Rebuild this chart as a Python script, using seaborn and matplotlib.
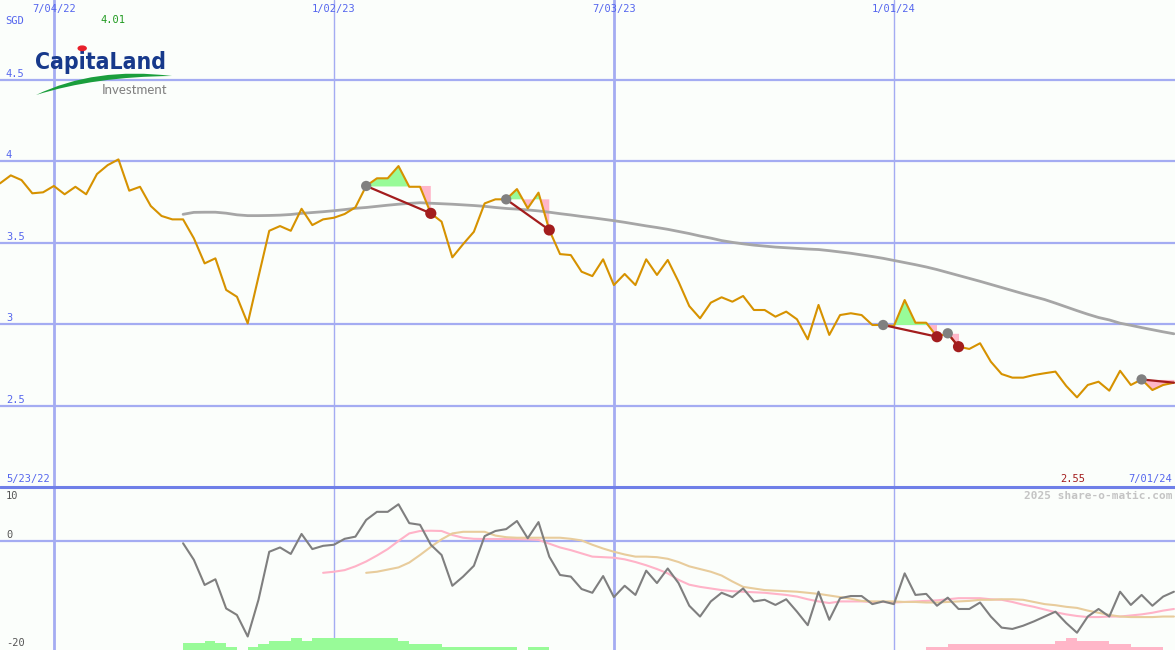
import numpy as np
import pandas as pd
import seaborn as sns
import matplotlib.pyplot as plt
import matplotlib.dates as mdates
from matplotlib import font_manager
from matplotlib.path import Path
from matplotlib.patches import PathPatch

# weekly closes, 5/30/22 .. 7/01/24
dates = pd.date_range('2022-05-30', periods=110, freq='7D')
price = [3.863, 3.912, 3.883, 3.802, 3.808, 3.847, 3.796, 3.842, 3.796, 3.920,
         3.975, 4.010, 3.818, 3.842, 3.724, 3.663, 3.642, 3.642, 3.526, 3.372,
         3.403, 3.209, 3.167, 3.004, 3.290, 3.572, 3.601, 3.572, 3.707, 3.607,
         3.642, 3.652, 3.675, 3.716, 3.847, 3.894, 3.894, 3.969, 3.842, 3.842,
         3.679, 3.628, 3.409, 3.490, 3.566, 3.740, 3.765, 3.765, 3.828, 3.710,
         3.806, 3.577, 3.429, 3.423, 3.321, 3.294, 3.397, 3.239, 3.307, 3.239,
         3.397, 3.301, 3.393, 3.260, 3.110, 3.035, 3.131, 3.164, 3.137, 3.172,
         3.086, 3.086, 3.045, 3.076, 3.029, 2.906, 3.117, 2.933, 3.055, 3.066,
         3.055, 2.994, 2.994, 2.988, 3.147, 3.008, 3.008, 2.922, 2.943, 2.861,
         2.847, 2.882, 2.769, 2.693, 2.671, 2.671, 2.687, 2.698, 2.708, 2.620,
         2.550, 2.626, 2.646, 2.591, 2.713, 2.626, 2.660, 2.595, 2.626, 2.640]

# moving average, from week 17
ma_price = [3.673, 3.685, 3.686, 3.686, 3.680, 3.670, 3.665, 3.665, 3.666, 3.668,
            3.672, 3.679, 3.684, 3.689, 3.695, 3.702, 3.710, 3.715, 3.722, 3.729,
            3.735, 3.740, 3.744, 3.741, 3.738, 3.735, 3.731, 3.727, 3.722, 3.715,
            3.709, 3.705, 3.700, 3.694, 3.686, 3.677, 3.669, 3.660, 3.652, 3.643,
            3.634, 3.624, 3.613, 3.602, 3.592, 3.581, 3.568, 3.555, 3.540, 3.527,
            3.512, 3.501, 3.492, 3.484, 3.478, 3.472, 3.468, 3.464, 3.460, 3.457,
            3.450, 3.442, 3.434, 3.424, 3.414, 3.403, 3.390, 3.377, 3.364, 3.350,
            3.334, 3.316, 3.298, 3.280, 3.262, 3.243, 3.224, 3.205, 3.186, 3.168,
            3.150, 3.128, 3.105, 3.082, 3.060, 3.040, 3.025, 3.005, 2.992, 2.978,
            2.965, 2.952, 2.940]

# lower panel oscillator (from week 17) and its two averages
osc = [-0.43, -3.5, -8.15, -7.1, -12.5, -13.7, -17.7, -10.9, -2.0, -1.2,
       -2.4, 1.3, -1.5, -0.9, -0.7, 0.4, 0.8, 3.9, 5.4, 5.4,
       6.8, 3.3, 3.0, -0.7, -2.6, -8.3, -6.6, -4.6, 0.9, 1.85,
       2.2, 3.7, 0.5, 3.5, -2.9, -6.3, -6.6, -8.9, -9.6, -6.5,
       -10.4, -8.3, -10.0, -5.5, -7.8, -5.1, -7.8, -12.0, -14.0, -11.2,
       -9.6, -10.4, -8.8, -11.2, -10.9, -11.85, -10.8, -13.1, -15.6, -9.4,
       -14.6, -10.6, -10.2, -10.2, -11.7, -11.2, -11.7, -6.0, -10.0, -9.8,
       -12.0, -10.5, -12.6, -12.6, -11.4, -14.0, -16.05, -16.3, -15.7, -14.9,
       -14.0, -13.1, -15.2, -17.0, -14.0, -12.6, -14.0, -9.4, -11.85, -10.0,
       -12.0, -10.3, -9.4]
osc_pink = [-5.9, -5.7, -5.4, -4.7, -3.8, -2.7, -1.5, 0.0, 1.4, 1.85,
            1.9, 1.85, 1.1, 0.6, 0.4, 0.37, 0.37, 0.37, 0.35, 0.3,
            0.2, -0.5, -1.2, -1.7, -2.3, -2.9, -3.0, -3.1, -3.4, -3.9,
            -4.5, -5.2, -6.0, -7.2, -8.1, -8.5, -8.8, -9.1, -9.3, -9.4,
            -9.5, -9.6, -9.8, -10.0, -10.3, -10.8, -11.2, -11.5, -11.2, -11.2,
            -11.2, -11.3, -11.3, -11.4, -11.3, -11.2, -11.1, -11.0, -10.8, -10.6,
            -10.6, -10.6, -10.8, -10.9, -11.3, -11.8, -12.2, -12.7, -13.2, -13.6,
            -13.9, -14.1, -14.1, -14.0, -14.0, -13.8, -13.6, -13.3, -12.9, -12.6]
osc_tan = [-5.9, -5.7, -5.3, -4.9, -4.0, -2.6, -1.1, 0.3, 1.4, 1.7,
           1.7, 1.7, 1.0, 0.7, 0.6, 0.6, 0.6, 0.6, 0.6, 0.4,
           0.1, -0.7, -1.4, -2.0, -2.5, -2.9, -2.9, -3.0, -3.3, -3.9,
           -4.7, -5.2, -5.7, -6.4, -7.5, -8.5, -8.8, -9.1, -9.2, -9.3,
           -9.4, -9.6, -9.8, -10.1, -10.4, -10.7, -11.1, -11.2, -11.2, -11.2,
           -11.3, -11.3, -11.4, -11.4, -11.3, -11.2, -11.1, -10.9, -10.9, -10.8,
           -10.8, -10.9, -11.3, -11.7, -11.9, -12.2, -12.4, -12.9, -13.3, -13.7,
           -14.0, -14.1, -14.1, -14.1, -14.0, -14.0]
green_bars = [1.24, 1.24, 1.67, 1.24, 0.6, 0.0, 0.5, 1.1, 1.67, 1.67,
              2.17, 1.67, 2.17, 2.17, 2.17, 2.17, 2.17, 2.17, 2.17, 2.17,
              1.67, 1.1, 1.1, 1.1, 0.5, 0.5, 0.5, 0.5, 0.5, 0.5,
              0.5, 0.0, 0.5, 0.5]   # weeks 17..50
pink_bars = [0.5, 0.5, 1.1, 1.1, 1.1, 1.1, 1.1, 1.1, 1.1, 1.1, 1.1, 1.1,
             1.67, 2.17, 1.67, 1.67, 1.67, 1.1, 1.1, 0.5, 0.5, 0.5]   # weeks 86..107

entries = [34, 47, 82, 88, 106]
exits = [40, 51, 87, 89, 109]

grid_dates = pd.to_datetime(['2022-07-04', '2023-01-02', '2023-07-03', '2024-01-01'])
grid_labels = ['7/04/22', '1/02/23', '7/03/23', '1/01/24']
price_levels = [4.5, 4.0, 3.5, 3.0, 2.5]
price_labels = ['4.5', '4', '3.5', '3', '2.5']

W, H = 1175, 650
BG = '#fbfefb'
GRID = '#a4acf2'
BLUE_TXT = '#5566ee'
GREEN = '#98fb98'
PINK = '#ffb6c8'
DARKRED = '#a31d1d'

sns.set_theme(style='white')
plt.rcParams['font.family'] = ['DejaVu Sans']
mono = 'DejaVu Sans Mono'


def fx(x):
    return x / W


def fy(y):
    return 1 - y / H


fig = plt.figure(figsize=(W / 100, H / 100), dpi=100, facecolor=BG)
ax1 = fig.add_axes([0, 163 / H, 1, 487 / H])
ax2 = fig.add_axes([0, 0, 1, 163 / H])

x0 = mdates.date2num(dates[0])
for ax in (ax1, ax2):
    ax.set_facecolor(BG)
    ax.set_axis_off()
    for d, lw in zip(grid_dates, [2.0, 1.0, 2.0, 1.0]):
        ax.axvline(d, color=GRID, lw=lw, zorder=0)

# ---- price panel
for lv in price_levels:
    ax1.axhline(lv, color=GRID, lw=1.6, zorder=0)

for e, x in zip(entries, exits):
    seg = np.array(price[e:x + 1])
    lvl = price[e]
    ax1.fill_between(dates[e:x + 1], seg, lvl, where=seg >= lvl, interpolate=True,
                     color=GREEN, lw=0, zorder=1)
    ax1.fill_between(dates[e:x + 1], seg, lvl, where=seg <= lvl, interpolate=True,
                     color=PINK, lw=0, zorder=1)

sns.lineplot(x=dates[17:], y=ma_price, ax=ax1, color='#a6a6a6', lw=2.0, zorder=2)
sns.lineplot(x=dates, y=price, ax=ax1, color='#d69200', lw=1.5, zorder=3)

for e, x in zip(entries, exits):
    ax1.plot([dates[e], dates[x]], [price[e], price[x]], color=DARKRED, lw=1.6, zorder=4)
sns.scatterplot(x=dates[entries], y=[price[i] for i in entries], ax=ax1,
                color='#808080', s=55, edgecolor='none', zorder=5)
sns.scatterplot(x=dates[exits[:-1]], y=[price[i] for i in exits[:-1]], ax=ax1,
                color=DARKRED, s=65, edgecolor='none', zorder=5)

ax1.set_xlim(x0, x0 + 109.1 * 7)
ax1.set_ylim(2.0, 4.988)

# ---- oscillator panel
ax2.axhline(0, color=GRID, lw=1.6, zorder=0)
xn = mdates.date2num(dates)
ax2.bar(xn[17:51], green_bars, width=7, align='edge', bottom=-20.2, color=GREEN, lw=0, zorder=1)
ax2.bar(xn[86:108], pink_bars, width=7, align='edge', bottom=-20.2, color=PINK, lw=0, zorder=1)
sns.lineplot(x=dates[30:], y=osc_pink, ax=ax2, color='#ffb3c8', lw=1.5, zorder=2)
sns.lineplot(x=dates[34:], y=osc_tan, ax=ax2, color='#e8cc9c', lw=1.5, zorder=2)
sns.lineplot(x=dates[17:], y=osc, ax=ax2, color='#7f7f7f', lw=1.5, zorder=3)
ax2.axhline(10, color='#6f7fe8', lw=2.2, zorder=6, clip_on=False)
ax2.set_xlim(x0, x0 + 109.1 * 7)
ax2.set_ylim(-20.2, 10)

# ---- labels
for d, lab in zip(grid_dates, grid_labels):
    ax1.text(d, 1 - 9 / 487, lab, transform=ax1.get_xaxis_transform(), ha='center',
             va='center', fontsize=7.5, family=mono, color=BLUE_TXT)
for lv, lab in zip(price_levels, price_labels):
    ax1.text(0.005, lv + 0.006, lab, transform=ax1.get_yaxis_transform(), ha='left',
             va='bottom', fontsize=7.5, family=mono, color=BLUE_TXT)
fig.text(fx(5), fy(21), 'SGD', ha='left', va='center', fontsize=7.5, family=mono, color=BLUE_TXT)
fig.text(fx(113), fy(20), '4.01', ha='center', va='center', fontsize=7.5, family=mono, color='#1f9a1f')
fig.text(fx(6), fy(479), '5/23/22', ha='left', va='center', fontsize=7.5, family=mono, color=BLUE_TXT)
fig.text(fx(1172), fy(479), '7/01/24', ha='right', va='center', fontsize=7.5, family=mono, color=BLUE_TXT)
fig.text(fx(1073), fy(479), '2.55', ha='center', va='center', fontsize=7.5, family=mono, color=DARKRED)
fig.text(fx(1172), fy(496), '2025 share-o-matic.com', ha='right', va='center', fontsize=8,
         family=mono, weight='bold', color='#c4c4c4')
fig.text(fx(6), fy(496), '10', ha='left', va='center', fontsize=7.5, family=mono, color='#555555')
fig.text(fx(6), fy(535), '0', ha='left', va='center', fontsize=7.5, family=mono, color='#555555')
fig.text(fx(6), fy(643), '-20', ha='left', va='center', fontsize=7.5, family=mono, color='#555555')

# ---- logo: prefer a narrow face, then size it to the logo width (~130 px)
narrow = [f for f in font_manager.fontManager.ttflist
          if ('Narrow' in f.name or 'Condensed' in f.name or str(f.stretch) == 'condensed')]
narrow_bold = [f for f in narrow if str(f.weight) in ('700', 'bold')]
if narrow_bold or narrow:
    logo_fp = font_manager.FontProperties(fname=(narrow_bold or narrow)[0].fname, size=20)
else:
    logo_fp = font_manager.FontProperties(family='Roboto', weight='bold', size=20)

renderer = fig.canvas.get_renderer()
logo = fig.text(fx(35), fy(69), 'CapitaLand', ha='left', va='baseline', fontproperties=logo_fp,
                color='#17398b')
w = logo.get_window_extent(renderer).width
logo_fp.set_size(20 * 131 / w)
logo.set_fontproperties(logo_fp)

probe = fig.text(0, 0, 'Cap', fontproperties=logo_fp)
w_cap = probe.get_window_extent(renderer).width
probe.set_text('Capi')
w_capi = probe.get_window_extent(renderer).width
probe.remove()
cap_h = 0.73 * logo_fp.get_size() * 100 / 72
dot_x = 35 + (w_cap + w_capi) / 2
fig.patches.append(plt.Circle((fx(dot_x), fy(69 - cap_h - 4)), 4 / W, color='#e8202a',
                              transform=fig.transFigure, zorder=10))

swoosh = Path([(fx(36), fy(95)), (fx(95), fy(66.5)), (fx(172), fy(76)),
               (fx(95), fy(76.5)), (fx(36), fy(95))],
              [Path.MOVETO, Path.CURVE3, Path.CURVE3, Path.CURVE3, Path.CURVE3])
fig.patches.append(PathPatch(swoosh, facecolor='#1a9e3c', edgecolor='none',
                             transform=fig.transFigure, zorder=9))
fig.text(fx(102), fy(90), 'Investment', ha='left', va='center', fontsize=9.5,
         family='Lato', color='#808080')

fig.savefig('out.png', dpi=100, facecolor=BG)
